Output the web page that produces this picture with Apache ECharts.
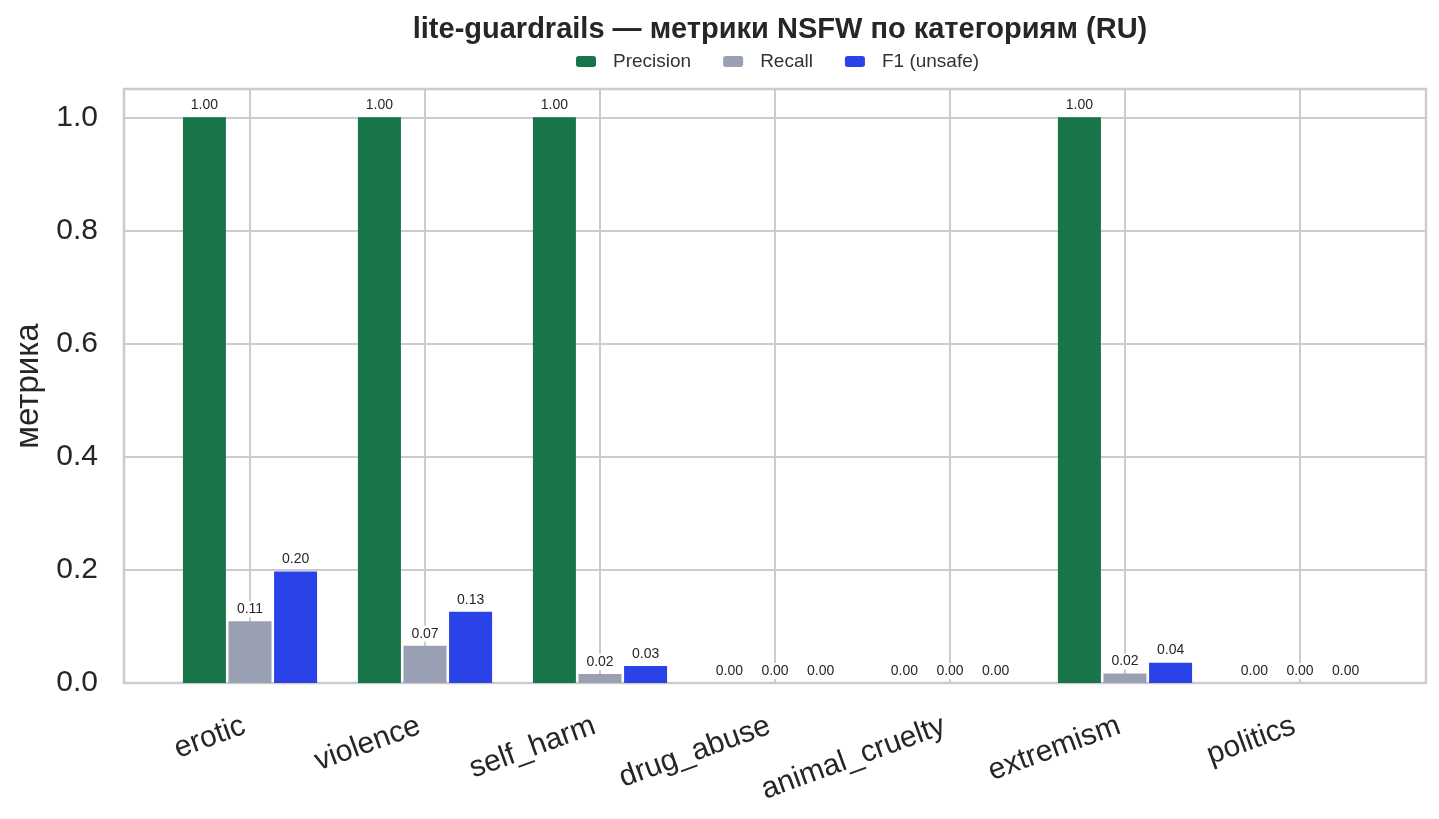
<!DOCTYPE html>
<html>
<head>
<meta charset="UTF-8">
<script src="https://cdn.jsdelivr.net/npm/echarts@6/dist/echarts.min.js"></script>
<style>
  html, body { margin: 0; padding: 0; background: #fff; }
  #main { width: 1439px; height: 819px; }
</style>
</head>
<body>
<div id="main"></div>
<script>
// data
var categories = ['erotic', 'violence', 'self_harm', 'drug_abuse', 'animal_cruelty', 'extremism', 'politics'];
var precision = [1.00, 1.00, 1.00, 0.00, 0.00, 1.00, 0.00];
var recall    = [0.109, 0.066, 0.016, 0.00, 0.00, 0.017, 0.00];
var f1        = [0.197, 0.126, 0.030, 0.00, 0.00, 0.036, 0.00];
var yTicks    = [0, 0.2, 0.4, 0.6, 0.8, 1.0];

var font = '"Liberation Sans", Arial, sans-serif';
var grey = '#cccccc';

function barLabel() {
  return {
    show: true,
    position: 'top',
    distance: 4,
    fontFamily: font,
    fontSize: 14,
    color: '#262626',
    backgroundColor: '#ffffff',
    padding: [1, 2],
    formatter: function (p) { return p.value.toFixed(2); }
  };
}

function makeBar(name, data, color) {
  return {
    name: name,
    type: 'bar',
    xAxisIndex: 1,
    yAxisIndex: 1,
    data: data,
    barWidth: 43,
    barGap: '6%',
    itemStyle: { color: color },
    label: barLabel(),
    z: 3
  };
}

var chart = echarts.init(document.getElementById('main'));
var option = {
  animation: false,
  textStyle: { fontFamily: font },
  title: {
    text: 'lite-guardrails — метрики NSFW по категориям (RU)',
    left: 775,
    textAlign: 'center',
    top: 10,
    textStyle: { fontFamily: font, fontSize: 29, fontWeight: 'bold', color: '#262626' }
  },
  legend: {
    top: 47,
    left: 571,
    itemWidth: 20,
    itemHeight: 11,
    itemGap: 32,
    textStyle: { fontFamily: font, fontSize: 19, color: '#333', padding: [0, 0, 0, 12] },
    data: ['Precision', 'Recall', 'F1 (unsafe)']
  },
  grid: [
    // frame + horizontal grid
    { left: 124, right: 13, top: 89, bottom: 136, show: true, borderColor: grey, borderWidth: 2.5, backgroundColor: 'transparent' },
    // bars
    { left: 162.5, right: 51.5, top: 89, bottom: 136 },
    // vertical grid at category centres
    { left: 250, right: 139, top: 89, bottom: 136 }
  ],
  xAxis: [
    { gridIndex: 0, type: 'value', min: 0, max: 1, show: false },
    {
      gridIndex: 1,
      type: 'category',
      data: categories,
      boundaryGap: true,
      axisLine: { show: false },
      axisTick: { show: false },
      splitLine: { show: false },
      axisLabel: { rotate: 20, margin: 40, padding: [0, 6, 0, 0], fontFamily: font, fontSize: 30, color: '#262626' }
    },
    {
      gridIndex: 2,
      type: 'category',
      data: categories,
      boundaryGap: false,
      axisLine: { show: false },
      axisTick: { show: false },
      axisLabel: { show: false },
      splitLine: { show: true, lineStyle: { color: grey, width: 2 } }
    }
  ],
  yAxis: [
    {
      gridIndex: 0,
      type: 'value',
      min: 0,
      max: 1.05,
      interval: 0.2,
      name: 'метрика',
      nameLocation: 'middle',
      nameGap: 78,
      nameTextStyle: { fontFamily: font, fontSize: 33, color: '#262626' },
      axisLine: { show: false },
      axisTick: { show: false },
      splitLine: { show: true, lineStyle: { color: grey, width: 2 } },
      axisLabel: {
        margin: 26,
        fontFamily: font,
        fontSize: 30,
        color: '#262626',
        showMaxLabel: false,
        formatter: function (v) {
          for (var i = 0; i < yTicks.length; i++) {
            if (Math.abs(v - yTicks[i]) < 1e-6) return yTicks[i].toFixed(1);
          }
          return '';
        }
      }
    },
    { gridIndex: 1, type: 'value', min: 0, max: 1.05, show: false },
    { gridIndex: 2, type: 'value', min: 0, max: 1.05, show: false }
  ],
  series: [
    makeBar('Precision', precision, '#18754a'),
    makeBar('Recall', recall, '#9aa0b3'),
    makeBar('F1 (unsafe)', f1, '#2a43e8')
  ]
};
chart.setOption(option);
</script>
</body>
</html>
